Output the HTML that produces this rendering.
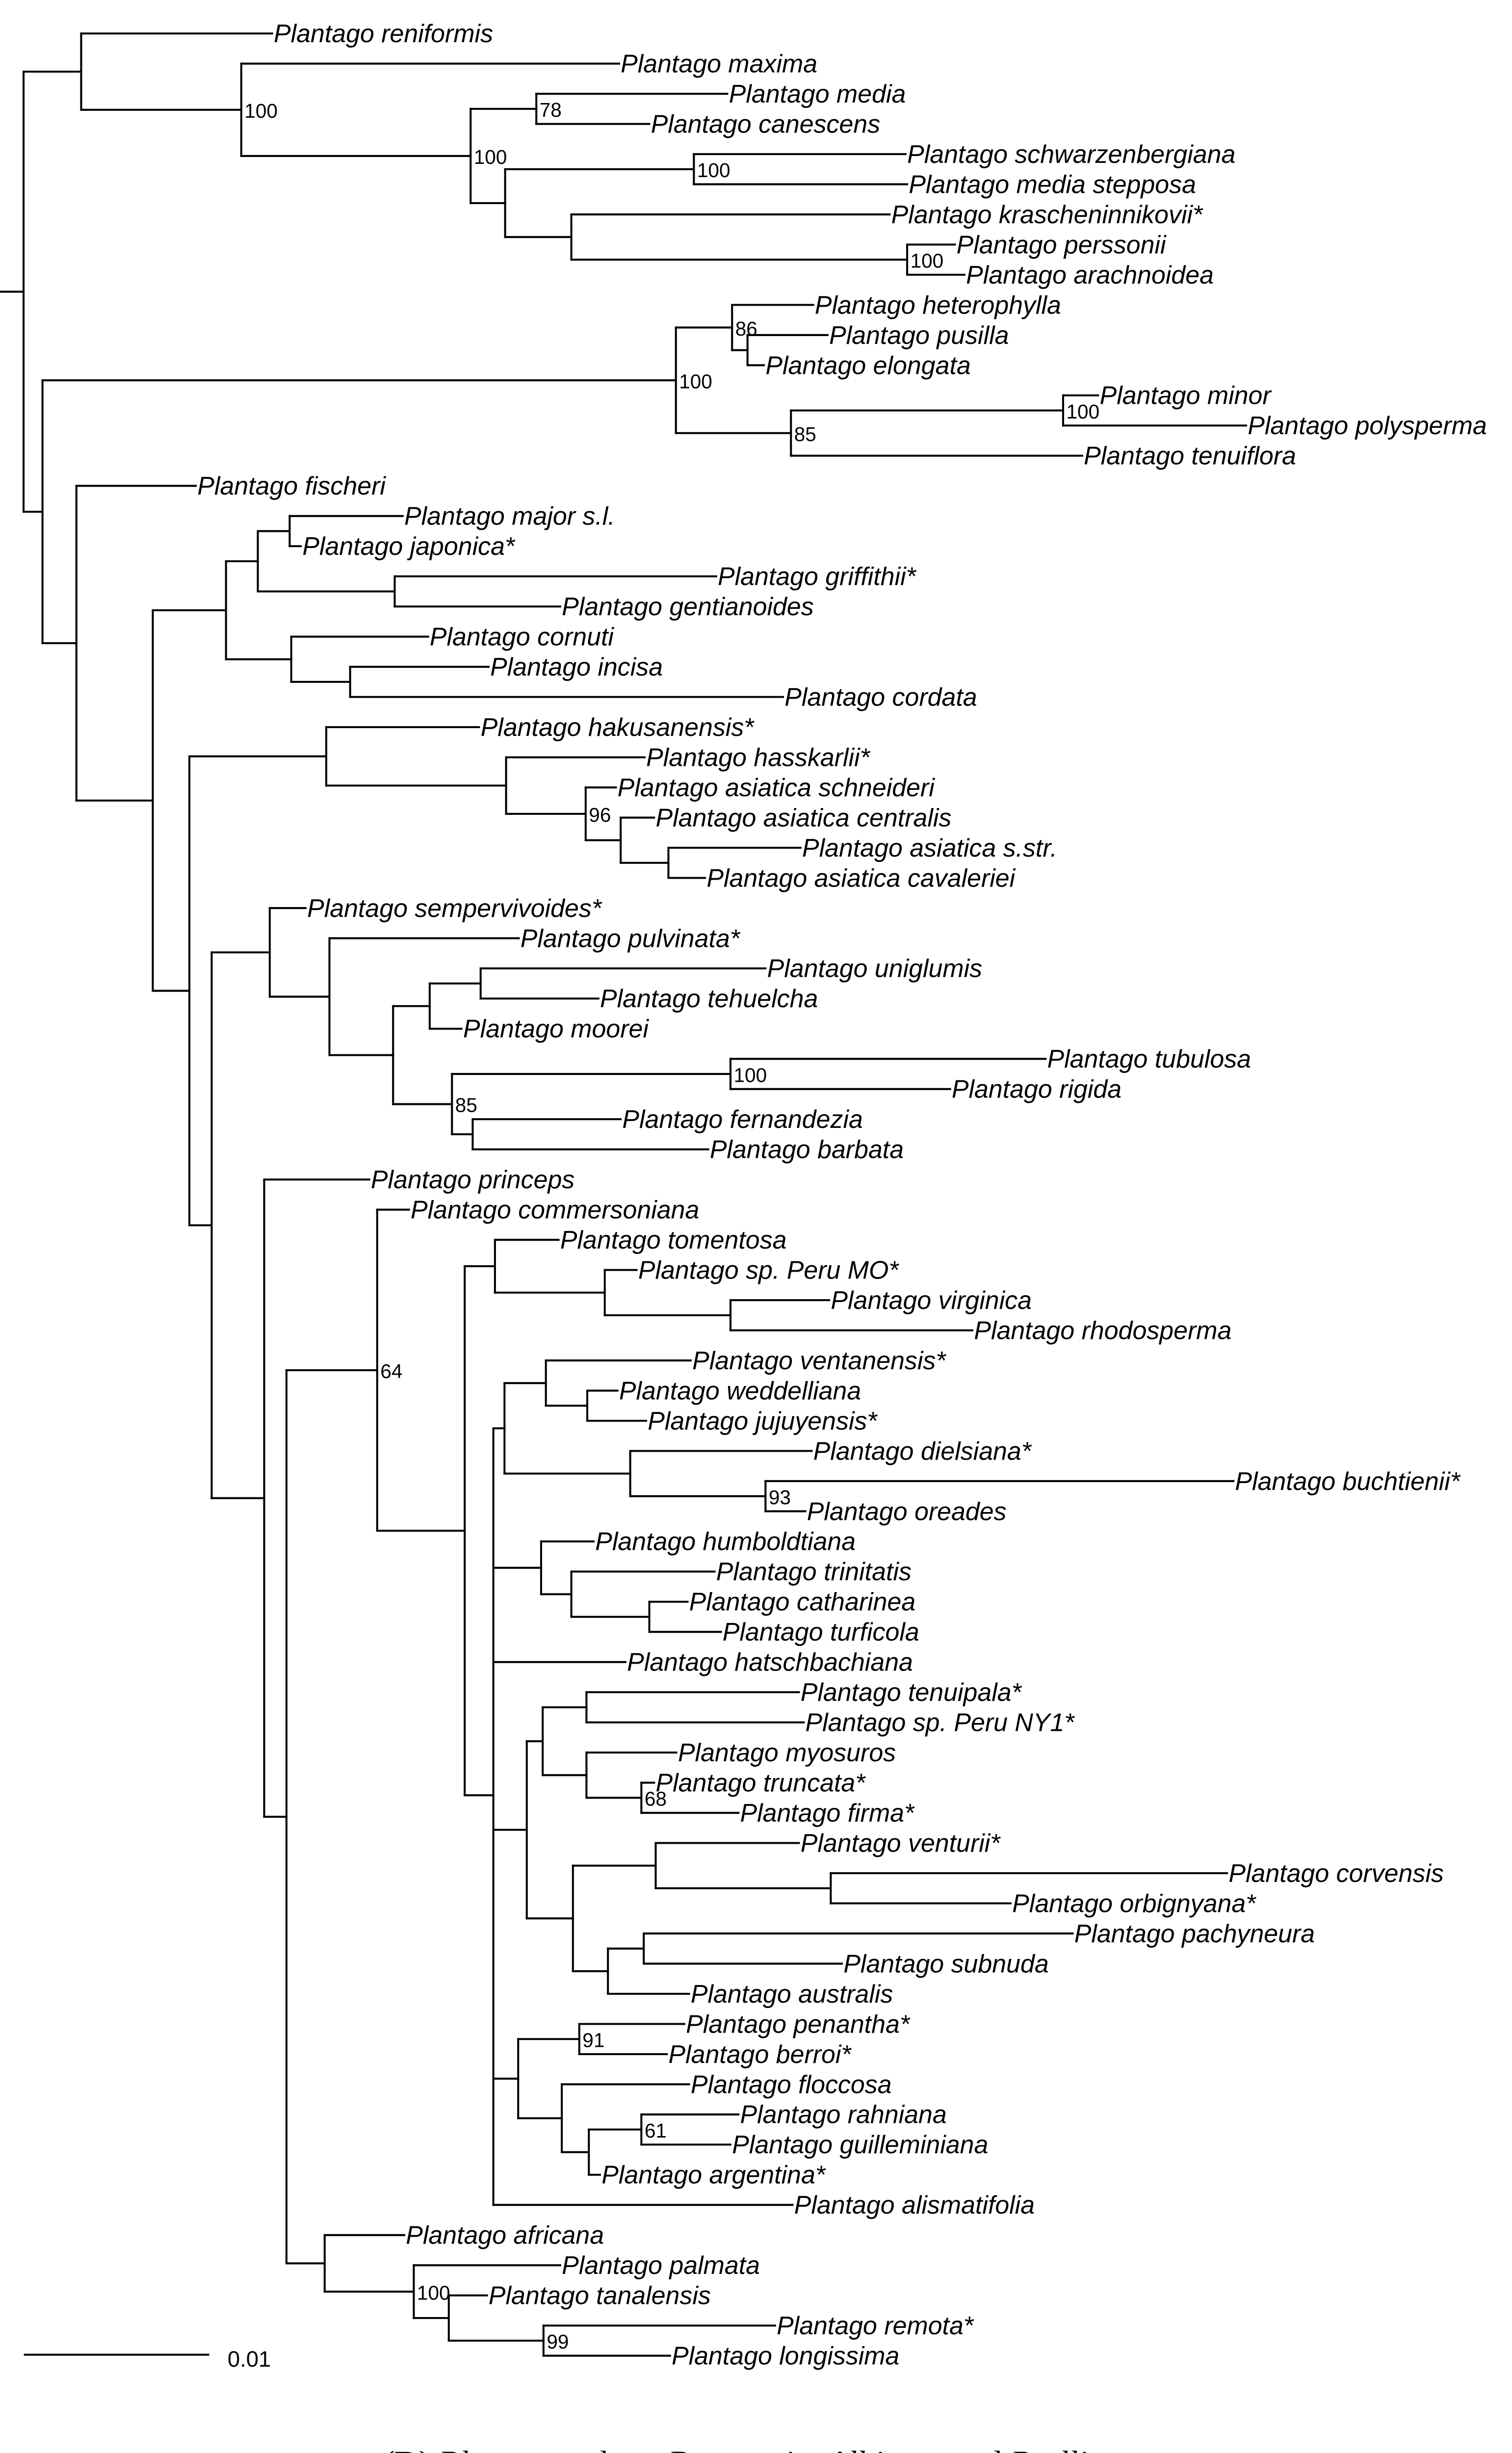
<!DOCTYPE html>
<html><head><meta charset="utf-8"><style>
html,body{margin:0;padding:0;background:#fff;width:3082px;height:5079px;overflow:hidden;}
svg{display:block;position:absolute;left:0;top:0;}
</style></head><body>
<svg id="s" xmlns="http://www.w3.org/2000/svg" width="3082" height="5079" viewBox="0 0 950.06 1565.6">
<rect width="950.06" height="1565.6" fill="#fff"/>
<g id="g" stroke="#000" stroke-width="1.25" stroke-linecap="square" fill="none"></g>
<g id="t" font-family="Liberation Sans, Arial, sans-serif" fill="#000"></g>
<line x1="15" y1="1479.5" x2="131.5" y2="1479.5" stroke="#000" stroke-width="1.25"/>
<text x="143" y="1487" font-family="Liberation Sans, Arial, sans-serif" font-size="14">0.01</text>
<text x="241" y="1553" font-family="Liberation Serif, serif" font-size="19" textLength="468" lengthAdjust="spacingAndGlyphs">(<tspan font-weight="bold">D</tspan>) <tspan font-style="italic">Plantago</tspan> subgg. <tspan font-style="italic">Bougueria</tspan>, <tspan font-style="italic">Albicans</tspan> and <tspan font-style="italic">Psyllium</tspan></text>
</svg>
<script>
function n(x,l,c){return {x:x,l:l,c:c};}
function L(name,x){return {x:x,name:name};}
var tree=
n(14.8,"",[
 n(51,"",[ L("reniformis",171), n(151.6,"100",[ L("maxima",389), n(295.7,"100",[ n(337,"78",[L("media",457),L("canescens",408)]), n(317.4,"",[ n(436,"100",[L("schwarzenbergiana",569),L("media stepposa",570)]), n(359,"",[L("krascheninnikovii*",559), n(570,"100",[L("perssonii",600),L("arachnoidea",606)])]) ]) ]) ]) ]),
 n(26.7,"",[
  n(424.7,"100",[ n(460,"86",[L("heterophylla",511), n(469.7,"",[L("pusilla",520),L("elongata",480)])]), n(497,"85",[ n(668,"100",[L("minor",690),L("polysperma",783)]), L("tenuiflora",680)]) ]),
  n(48,"",[ L("fischeri",123), n(96,"",[
    n(142,"",[ n(162,"",[ n(182,"",[L("major s.l.",253),L("japonica*",189)]), n(248,"",[L("griffithii*",450),L("gentianoides",352)]) ]), n(183,"",[L("cornuti",269), n(220,"",[L("incisa",307),L("cordata",492)])]) ]),
    n(119,"",[
      n(205,"",[L("hakusanensis*",301), n(318,"",[L("hasskarlii*",405), n(368,"96",[L("asiatica schneideri",387), n(390,"",[L("asiatica centralis",411), n(420,"",[L("asiatica s.str.",503),L("asiatica cavaleriei",443)])])])])]),
      n(133,"",[
        n(169.5,"",[L("sempervivoides*",192), n(207,"",[L("pulvinata*",326), n(247,"",[ n(270,"",[ n(302,"",[L("uniglumis",481),L("tehuelcha",376)]), L("moorei",290)]), n(284,"85",[ n(459,"100",[L("tubulosa",657),L("rigida",597)]), n(297,"",[L("fernandezia",390),L("barbata",445)]) ]) ]) ]) ]),
        n(166,"",[ L("princeps",232), n(180,"",[
          n(237,"64",[ L("commersoniana",257), n(292,"",[
            n(311,"",[L("tomentosa",351), n(380,"",[L("sp. Peru MO*",400), n(459,"",[L("virginica",521),L("rhodosperma",611)])])]),
            n(310,"",[
              n(317,"",[ n(343,"",[L("ventanensis*",434), n(369,"",[L("weddelliana",388),L("jujuyensis*",406)])]), n(396,"",[L("dielsiana*",510), n(481,"93",[L("buchtienii*",775),L("oreades",506)])]) ]),
              n(340,"",[L("humboldtiana",373), n(359,"",[L("trinitatis",449), n(408,"",[L("catharinea",432),L("turficola",453)])])]),
              L("hatschbachiana",393),
              n(331,"",[ n(341,"",[ n(368.5,"",[L("tenuipala*",502),L("sp. Peru NY1*",505)]), n(368.5,"",[L("myosuros",425), n(403,"68",[L("truncata*",411),L("firma*",464)])]) ]), n(360,"",[ n(412,"",[L("venturii*",502), n(522,"",[L("corvensis",771),L("orbignyana*",635)])]), n(382,"",[ n(404.5,"",[L("pachyneura",674),L("subnuda",529)]), L("australis",433)]) ]) ]),
              n(325.6,"",[ n(364,"91",[L("penantha*",430),L("berroi*",419)]), n(353,"",[L("floccosa",433), n(370,"",[ n(403,"61",[L("rahniana",464),L("guilleminiana",459)]), L("argentina*",377)])]) ]),
              L("alismatifolia",498)
            ])
          ]) ]),
          n(204,"",[ L("africana",254), n(260,"100",[ L("palmata",352), n(282,"",[L("tanalensis",306), n(341.5,"99",[L("remota*",487),L("longissima",421)])]) ]) ])
        ]) ])
      ])
    ])
  ]) ])
 ])
]);
var idx=0;
function lay(nd){
  if(!nd.c){nd.y=21+idx*18.95;idx++;return nd.y;}
  var s=0;for(var i=0;i<nd.c.length;i++){s+=lay(nd.c[i]);}
  nd.y=s/nd.c.length;return nd.y;
}
lay(tree);
var NS="http://www.w3.org/2000/svg";
var g=document.getElementById("g"),t=document.getElementById("t");
function line(x1,y1,x2,y2){var e=document.createElementNS(NS,"line");e.setAttribute("x1",x1);e.setAttribute("y1",y1);e.setAttribute("x2",x2);e.setAttribute("y2",y2);g.appendChild(e);}
function txt(x,y,s,sz,it){var e=document.createElementNS(NS,"text");e.setAttribute("x",x);e.setAttribute("y",y);e.setAttribute("font-size",sz);if(it)e.setAttribute("font-style","italic");e.textContent=s;t.appendChild(e);}
function draw(nd){
  if(!nd.c){txt(nd.x+1,nd.y+5.5,"Plantago "+nd.name,16,true);return;}
  var c=nd.c;
  line(nd.x,c[0].y,nd.x,c[c.length-1].y);
  for(var i=0;i<c.length;i++){line(nd.x,c[i].y,c[i].x,c[i].y);draw(c[i]);}
  if(nd.l)txt(nd.x+2,nd.y+5,nd.l,12.5,false);
}
draw(tree);
line(0,tree.y,tree.x,tree.y);
</script>
</body></html>
